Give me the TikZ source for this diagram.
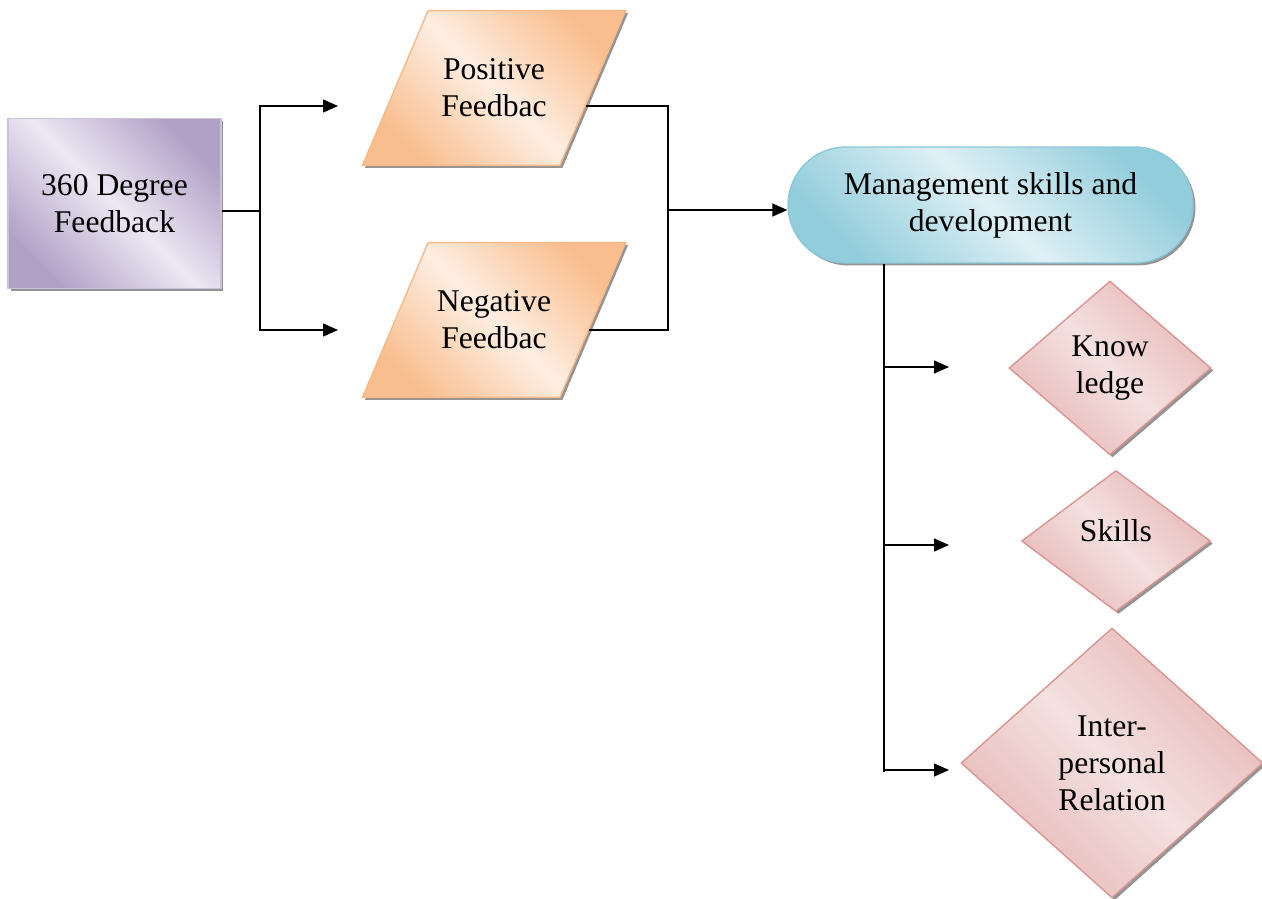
\documentclass[tikz,border=0pt]{standalone}
\usepackage{fontspec}
\setmainfont{Liberation Serif}
\usetikzlibrary{shapes.geometric,arrows.meta,shadows}
\definecolor{purpdark}{RGB}{178,161,199}
\definecolor{purplight}{RGB}{236,232,243}
\definecolor{purpline}{RGB}{204,193,218}
\definecolor{orgdark}{RGB}{249,190,142}
\definecolor{orglight}{RGB}{254,238,226}
\definecolor{orgline}{RGB}{247,185,135}
\definecolor{bluedark}{RGB}{146,205,220}
\definecolor{bluelight}{RGB}{222,240,245}
\definecolor{blueline}{RGB}{140,200,216}
\definecolor{pinkdark}{RGB}{230,184,183}
\definecolor{pinklight}{RGB}{244,225,224}
\definecolor{pinkline}{RGB}{217,150,148}

\tikzset{
  base/.style={font=\fontsize{18}{21}\selectfont, align=center, inner sep=1pt, line width=0.8pt,
    drop shadow={shadow xshift=0.05cm, shadow yshift=-0.05cm, fill=black!60, opacity=0.7}},
  grad/.style 2 args={top color=#1, bottom color=#1, middle color=#2, shading angle=-45},
  startbox/.style={base, rectangle, draw=purpline, grad={purpdark}{purplight},
    minimum width=4.26cm, minimum height=3.4cm},
  feedbox/.style={base, trapezium, trapezium left angle=67, trapezium right angle=113,
    text width=75pt, inner xsep=0pt, inner ysep=27.5pt, draw=orgline, grad={orgdark}{orglight}},
  goalbox/.style={base, rectangle, rounded corners=1.16cm, draw=blueline, grad={bluedark}{bluelight},
    minimum width=8.1cm, minimum height=2.32cm},
  areabox/.style={base, diamond, draw=pinkline, grad={pinkdark}{pinklight}},
  arr/.style={line width=0.8pt, -{Triangle[length=0.3cm,width=0.26cm]}},
  wire/.style={line width=0.8pt}
}

\begin{document}
\begin{tikzpicture}[x=0.02cm,y=-0.02cm]
\useasboundingbox (0,0) rectangle (1262,899);

% source
\node[startbox] (fb) at (114.5,203.5) {360 Degree\\Feedback};

% feedback types
\node[feedbox] (pos) at (494,88) {Positive\\Feedbac};
\node[feedbox] (neg) at (494,320) {Negative\\Feedbac};

% target
\node[goalbox] (mgmt) at (990.5,205) {Management skills and\\development};

% areas
\node[areabox, minimum width=4.04cm, minimum height=3.48cm] (know) at (1110,368) {Know\\ledge};
\node[areabox, minimum width=3.78cm, minimum height=2.82cm, text depth=12pt] (skills) at (1116,541) {Skills};
\node[areabox, minimum width=6.04cm, minimum height=5.4cm] (inter) at (1112,763) {Inter-\\personal\\Relation};

% connectors
\coordinate (fork) at (260,211);
\coordinate (posin) at (338,106);
\coordinate (negin) at (338,330);
\coordinate (join) at (668,210);
\coordinate (spine) at (884,772);
\coordinate (kin) at (949,367);
\coordinate (sin) at (949,545);
\coordinate (iin) at (949,770);

\draw[wire] (fb.east |- fork) -- (fork);
\draw[arr] (fork) |- (posin);
\draw[arr] (fork) |- (negin);
\draw[wire] (pos.-11) -| (join);
\draw[wire] (neg.-6) -| (join);
\draw[arr] (join) -- (join -| mgmt.west);
\draw[wire] (spine |- mgmt.south) -- (spine);
\draw[arr] (spine |- kin) -- (kin);
\draw[arr] (spine |- sin) -- (sin);
\draw[arr] (spine |- iin) -- (iin);
\end{tikzpicture}
\end{document}
